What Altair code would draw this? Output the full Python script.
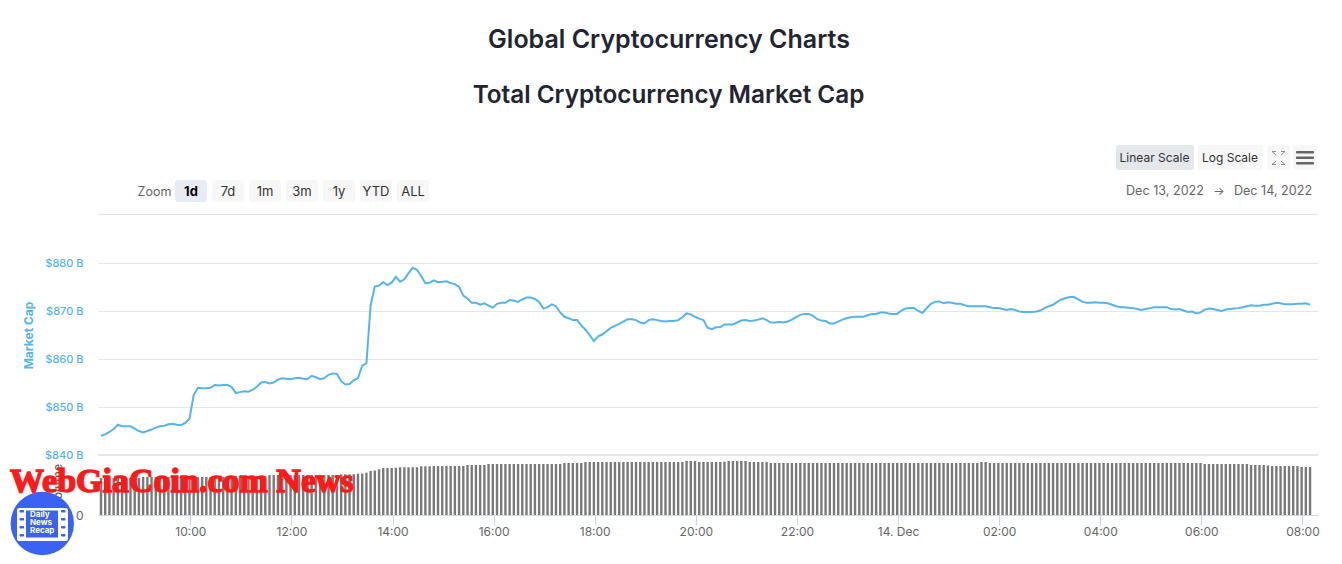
import altair as alt
import pandas as pd

# Market cap in $ billions, one reading per 5 minutes
cap = [
844.0,844.3,844.8,845.4,846.3,846.0,846.0,846.0,845.5,845.0,844.7,845.0,
845.3,845.7,846.0,846.1,846.4,846.5,846.3,846.2,846.7,847.5,852.5,854.0,
853.9,853.9,854.0,854.6,854.5,854.6,854.6,854.2,852.9,853.1,853.3,853.2,
853.6,854.2,855.1,855.2,854.9,855.1,855.7,856.0,855.9,855.8,856.0,856.1,
855.9,855.8,856.5,856.2,855.8,856.0,856.7,857.0,856.9,855.4,854.7,854.8,
855.6,856.0,858.6,859.1,871.2,875.1,875.3,876.0,875.4,875.9,877.1,876.1,
876.6,877.9,879.0,878.6,877.3,875.8,875.9,876.4,876.0,876.1,876.2,875.8,
875.6,875.0,873.2,872.6,871.7,871.7,871.3,871.6,871.1,870.7,871.5,871.7,
871.7,872.3,872.2,871.9,872.4,872.8,872.8,872.5,871.9,870.5,870.8,871.4,
871.0,869.7,868.8,868.5,868.1,868.1,867.0,866.1,865.0,863.7,864.7,865.1,
865.8,866.5,866.9,867.3,867.8,868.3,868.3,868.1,867.6,867.4,868.1,868.3,
868.1,867.9,867.8,867.9,867.9,868.1,868.7,869.5,869.3,868.8,868.4,868.1,
866.5,866.2,866.6,866.6,867.2,867.2,867.2,867.6,868.0,868.1,867.9,868.0,
868.2,868.5,868.1,867.6,867.6,867.7,867.6,867.8,868.2,868.7,869.2,869.4,
869.4,869.0,868.3,868.0,867.9,867.4,867.4,867.8,868.2,868.5,868.7,868.8,
868.8,868.8,869.1,869.4,869.4,869.7,869.7,869.5,869.4,869.4,870.1,870.5,
870.6,870.6,870.0,869.6,870.6,871.5,871.9,872.0,871.6,871.8,871.7,871.5,
871.5,871.2,871.0,871.0,871.0,871.0,871.0,870.8,870.6,870.6,870.4,870.2,
870.4,870.2,869.9,869.8,869.8,869.8,869.9,870.1,870.6,871.0,871.3,871.9,
872.4,872.7,872.9,872.9,872.4,871.9,871.7,871.7,871.8,871.7,871.7,871.6,
871.3,871.0,870.8,870.8,870.7,870.6,870.4,870.2,870.4,870.6,870.8,870.8,
870.8,870.8,870.4,870.3,870.4,870.1,869.8,869.9,869.5,869.7,870.3,870.5,
870.4,870.2,870.0,870.3,870.4,870.5,870.6,870.8,871.0,871.2,871.1,871.1,
871.3,871.3,871.5,871.7,871.6,871.4,871.4,871.4,871.5,871.5,871.6,871.3,
]

# Volume in $ billions, one reading per 5 minutes
volume = [
37,37,37,37,37,37,37,37,37,37,38,38,
38,38,38,38,38,38,38,38,38,38,38,38,
38,38,38,38,38,38,38,39,39,39,39,39,
39,39,39,39,40,40,40,40,40,40,40,40,
40,40,40,40,40,40,40,40,40,40.7,40.7,40.7,
40.7,41.3,41.3,42.3,44,44.5,45.7,47,47,47,47.2,47.7,
47.7,47.7,47.7,47.7,48.7,48.7,48.7,49,49,49,49,49,
49,49,49,50,50,50,50,50,51,51,51,51,
51,51,51,51,51,51,51,51,51,51,51,51,
51,51,52,52,52,52,52,53,53,53,53,53,
53,53,53,53,53,53,53,53,53,53,53,53,
53,53,53,53,53,53,53,54,54,54,53,53,
53,53,53,53,53.3,54,54,54,54,54,53,53,
53,53,53,52,52,52,52,52,52,52,52,52,
52,52,52,52,52,52,52,52,52,52,52,52,
52,52,52,52,52,52,52,52,52,52,52,52,
52,52,52,52,52,52,52,52,52,52,52,52,
52,52,52,52,52,53,53,52,52,52,52,52,
52,52,52,52,52,52,52,52,52,52,52,52,
52,52,52,52,52,52,52,52,52,52,52,52,
52,52,52,52,52,52,52,52,52,52,52,52,
52,52,52,52,52,52,52,52,52,52,51,51,
51,51,51,51,51,51,51,51,51,50,50,50,
50,49.5,49,49,49,49,49,49,49,48,48,48,
]

times = pd.date_range("2022-12-13T08:14:00", periods=len(cap), freq="5min")
data = pd.DataFrame({"time": times.strftime("%Y-%m-%dT%H:%M:%SZ"), "cap": cap, "volume": volume})

INK = "#222531"
BLUE = "#56b4ea"
GREY = "#666666"
FONT = "Inter"

cap_ticks = [840, 850, 860, 870, 880]
tick_hours = [10, 12, 14, 16, 18, 20, 22]
tick_hours_next_day = [0, 2, 4, 6, 8]
zoom_buttons = ["1d", "7d", "1m", "3m", "1y", "YTD", "ALL"]
zoom_left = [175, 212, 249, 286, 323, 360, 397]


def moment(day, hours, minutes=0, seconds=0):
    return alt.DateTime(year=2022, month=12, date=day, hours=hours, minutes=minutes, seconds=seconds, utc=True)


x_scale = alt.Scale(type="utc", nice=False, padding=0, domain=[moment(13, 8, 10, 26), moment(14, 8, 18, 26)])
y_cap = alt.Scale(domain=[840, 890], range=[241, 1], nice=False)
y_vol = alt.Scale(domain=[0, 60], range=[301, 241], nice=False)

base = alt.Chart(data)

x_axis = alt.Axis(
    title=None, grid=False,
    values=[moment(13, h) for h in tick_hours] + [moment(14, h) for h in tick_hours_next_day],
    labelExpr="utcFormat(datum.value,'%H:%M')=='00:00'?'14. Dec':utcFormat(datum.value,'%H:%M')",
    domainColor="#ccd6eb", tickColor="#ccd6eb", tickSize=10, labelColor=GREY,
    labelFont=FONT, labelFontSize=12, labelPadding=1, labelOverlap=False, labelFlush=False,
)

line = base.mark_line(color=BLUE, strokeWidth=2, clip=True).encode(
    x=alt.X("time:T", scale=x_scale, axis=x_axis),
    y=alt.Y("cap:Q", scale=y_cap, axis=alt.Axis(
        values=cap_ticks, grid=True, gridColor="#e6e6e6", domain=False, ticks=False,
        labelExpr="'$'+datum.value+' B'", labelColor=BLUE,
        labelFont=FONT, labelFontSize=11, labelFontWeight=500, labelPadding=15,
        title="Market Cap", titleColor=BLUE, titleFont=FONT, titleFontSize=12, titleFontWeight=700,
        titleX=-63, titleY=121, titleAngle=-90,
    )),
)

bars = base.mark_bar(color="#797979", width=2.4).encode(
    x=alt.X("time:T", scale=x_scale, axis=x_axis),
    y=alt.Y("volume:Q", scale=y_vol, axis=alt.Axis(
        orient="left", values=[0], grid=False, domain=False, ticks=False, labelColor=GREY,
        labelFont=FONT, labelFontSize=12, labelPadding=15, title="Volume", titleColor=GREY,
        titleFont=FONT, titleFontSize=12, titleFontWeight=500, titleX=-34, titleY=271, titleAngle=-90,
    )),
)

OX, OY = 98, 214


def label(text, px, py, size=13, color="#333333", weight=400, align="center", font=FONT, **kw):
    return alt.Chart(data.head(1)).mark_text(
        text=text, fontSize=size, color=color, fontWeight=weight, align=align, baseline="middle",
        font=font, **kw
    ).encode(x=alt.value(px - OX), y=alt.value(py - OY))


def box(x0, x1, y0, y1, fill, radius=3):
    return alt.Chart(data.head(1)).mark_rect(color=fill, cornerRadius=radius).encode(
        x=alt.value(x0 - OX), x2=alt.value(x1 - OX), y=alt.value(y0 - OY), y2=alt.value(y1 - OY)
    )


def seg(x0, y0, x1, y1, color="#8a8a8a", width=1):
    return alt.Chart(data.head(1)).mark_rule(color=color, strokeWidth=width).encode(
        x=alt.value(x0 - OX), x2=alt.value(x1 - OX), y=alt.value(y0 - OY), y2=alt.value(y1 - OY)
    )


deco = [
    seg(98, 214.5, 1318, 214.5, "#e6e6e6", 1),
    seg(98, 455, 1318, 455, "#e6e6e6", 2),
    label("Global Cryptocurrency Charts", 669, 40, size=25, color=INK, weight=600),
    label("Total Cryptocurrency Market Cap", 668.5, 96, size=24.3, color=INK, weight=600),
    label("Zoom", 154.5, 192, size=12.5, color=GREY),
    box(1116, 1194, 145, 170, "#e4e7ec"),
    box(1198, 1263, 145, 170, "#f7f7f7"),
    box(1267, 1290, 145, 170, "#f7f7f7"),
    box(1293, 1317, 145, 170, "#f7f7f7"),
    label("Linear Scale", 1154.5, 158, size=12),
    label("Log Scale", 1230, 158, size=12),
    box(1296, 1314, 151, 153.5, "#666666", 1),
    box(1296, 1314, 156.5, 159, "#666666", 1),
    box(1296, 1314, 162, 164.5, "#666666", 1),
    seg(1272, 151.5, 1276, 151.5), seg(1272, 151.5, 1276, 155),
    seg(1285, 151.5, 1281, 151.5), seg(1285, 151.5, 1281, 155),
    seg(1272, 164.5, 1276, 164.5), seg(1272, 164.5, 1276, 161),
    seg(1285, 164.5, 1281, 164.5), seg(1285, 164.5, 1281, 161),
    label("Dec 13, 2022", 1165, 191, size=12.6, color=GREY),
    label("\u2192", 1219, 191, size=12, color=GREY),
    label("Dec 14, 2022", 1273, 191, size=12.6, color=GREY),
]
for name, left in zip(zoom_buttons, zoom_left):
    selected = name == "1d"
    deco.append(box(left, left + 32, 180, 202, "#e6ebf5" if selected else "#f7f7f7"))
    deco.append(label(name, left + 16, 191.5, color="#000000" if selected else "#333333",
                      weight=700 if selected else 400))

logo = [
    alt.Chart(data.head(1)).mark_circle(color="#3a62f5", size=4020, opacity=1).encode(
        x=alt.value(42.3 - OX), y=alt.value(523.5 - OY)),
    box(17, 68, 508, 541, "#ffffff", 2),
    box(26, 58, 510.5, 537.5, "#3a62f5", 0),
]
for hole_y in [510, 518, 526, 534]:
    logo.append(box(19.5, 24, hole_y, hole_y + 2.6, "#3a62f5", 1))
    logo.append(box(61, 65.5, hole_y, hole_y + 2.6, "#3a62f5", 1))
for word, wy in zip(["Daily", "News", "Recap"], [515, 523, 531]):
    logo.append(label(word, 30, wy, size=8, color="#ffffff", weight=700, align="left"))

watermark = label("WebGiaCoin.com News", 10, 482, size=34, color="#ff1a1a", weight=700, align="left",
                  font="Liberation Serif", stroke="#ff1a1a", strokeWidth=1.5)

chart = alt.layer(
    line, bars, *deco, logo[0], watermark, *logo[1:]
).resolve_scale(y="independent").properties(
    width=1220, height=301, background="#ffffff",
    padding={"left": 90, "top": 206, "right": 16, "bottom": 41},
    autosize=alt.AutoSizeParams(type="none"),
).configure_view(stroke=None)

chart.save("out.html", embed_options={"renderer": "svg", "actions": False})
